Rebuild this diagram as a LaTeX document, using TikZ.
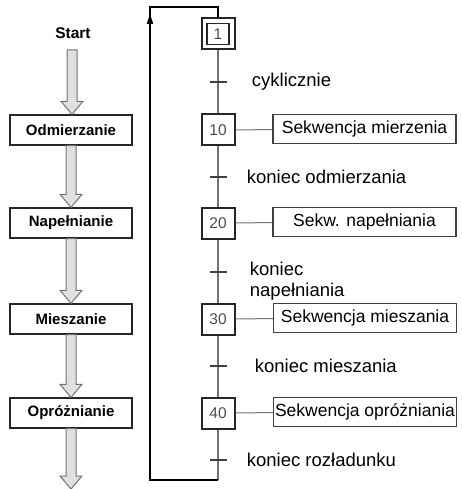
\documentclass[tikz,border=0pt]{standalone}
\usepackage{fontspec}
\setmainfont{Liberation Sans}
\usetikzlibrary{positioning,calc,arrows.meta}

% hollow block arrow between two points
\newcommand{\fatarrow}[2]{%
  \draw[fatarrow] let \p1=(#1), \p2=(#2) in
    (\x1-5pt,\y1) -- (\x1-5pt,\y2+13pt) -- (\x1-11pt,\y2+13pt) -- (\x1,\y2)
    -- (\x1+11pt,\y2+13pt) -- (\x1+5pt,\y2+13pt) -- (\x1+5pt,\y1) -- cycle;}

\begin{document}
\begin{tikzpicture}[x=1pt, y=-1pt,
    stage/.style={draw=black!85, line width=1.3pt, minimum width=122pt, minimum height=30pt,
                  inner sep=0pt, font=\bfseries\fontsize{15}{17}\selectfont},
    stepbox/.style={draw=black!85, line width=2pt, minimum width=33pt, minimum height=31pt,
                    inner sep=0pt, text=black!70, font=\fontsize{15.5}{17}\selectfont},
    action/.style={draw=black!75, line width=1.1pt, minimum width=183pt, minimum height=29pt,
                   inner sep=0pt, font=\fontsize{17.5}{19}\selectfont},
    trans/.style={fill=black!75, minimum width=17pt, minimum height=1.8pt, inner sep=0pt},
    cond/.style={font=\fontsize{18.5}{21}\selectfont, inner sep=0pt, align=left},
    fatarrow/.style={draw=black!55, fill=black!12, line width=1pt, line join=miter},
    chain/.style={draw=black!55, line width=1.5pt},
    link/.style={draw=black!55, line width=1pt},
    loopline/.style={draw=black, line width=1.5pt}]

    \useasboundingbox (0,0) rectangle (461,489);

    % left column: operations
    \node[font=\bfseries\fontsize{15.5}{17}\selectfont] (start) at (73,33) {Start};
    \coordinate (startpt) at (72,50);
    \node[stage] (odm) at (71,130) {Odmierzanie};
    \node[stage] (nap) at (71,223) {Napełnianie};
    \node[stage] (mie) at (71,319) {Mieszanie};
    \node[stage] (opr) at (71,413) {Opróżnianie};
    \coordinate (out) at (72,489);

    \fatarrow{startpt}{odm.north}
    \fatarrow{odm.south}{nap.north}
    \fatarrow{nap.south}{mie.north}
    \fatarrow{mie.south}{opr.north}
    \fatarrow{opr.south}{out}

    % right column: steps
    \node[stepbox] (s1) at (218,34) {};
    \node[stepbox, minimum width=22pt, minimum height=21pt, line width=1.3pt] (s1in) at (s1) {1};
    \node[stepbox] (s10) at (218,130) {10};
    \node[stepbox] (s20) at (218,223) {20};
    \node[stepbox] (s30) at (218,319) {30};
    \node[stepbox] (s40) at (218,413) {40};

    % transitions
    \node[trans] (t1) at (218,82) {};
    \node[trans] (t2) at (218,177) {};
    \node[trans] (t3) at (218,272) {};
    \node[trans] (t4) at (218,366) {};
    \node[trans] (t5) at (218,460) {};

    \node[cond, right=25pt of t1] (c1) {cyklicznie};
    \node[cond, right=20pt of t2] (c2) {koniec odmierzania};
    \node[cond, right=23pt of t3, yshift=-9pt] (c3) {koniec\\napełniania};
    \node[cond, right=28pt of t4] (c4) {koniec mieszania};
    \node[cond, right=20pt of t5] (c5) {koniec rozładunku};

    % actions
    \node[action] (a10) at (364.5,129) {Sekwencja mierzenia};
    \node[action] (a20) at (364.5,222) {Sekw. napełniania};
    \node[action] (a30) at (365,318) {Sekwencja mieszania};
    \node[action] (a40) at (365,412) {Sekwencja opróżniania};

    \draw[link] (s10) -- (a10);
    \draw[link] (s20) -- (a20);
    \draw[link] (s30) -- (a30);
    \draw[link] (s40) -- (a40);

    % chain and return loop
    \coordinate (lb) at (218,480);
    \coordinate (bl) at (150,480);
    \coordinate (tl) at (150,7);
    \coordinate (ah) at (150,12);
    \draw[chain] (s1) -- (t1) -- (s10) -- (t2) -- (s20) -- (t3) -- (s30) -- (t4) -- (s40) -- (t5) -- (lb);
    \draw[loopline] (lb) -| (tl) -| (s1);
    \draw[loopline, -{Latex[length=12pt, width=7pt]}] (bl) -- (ah);
\end{tikzpicture}
\end{document}
